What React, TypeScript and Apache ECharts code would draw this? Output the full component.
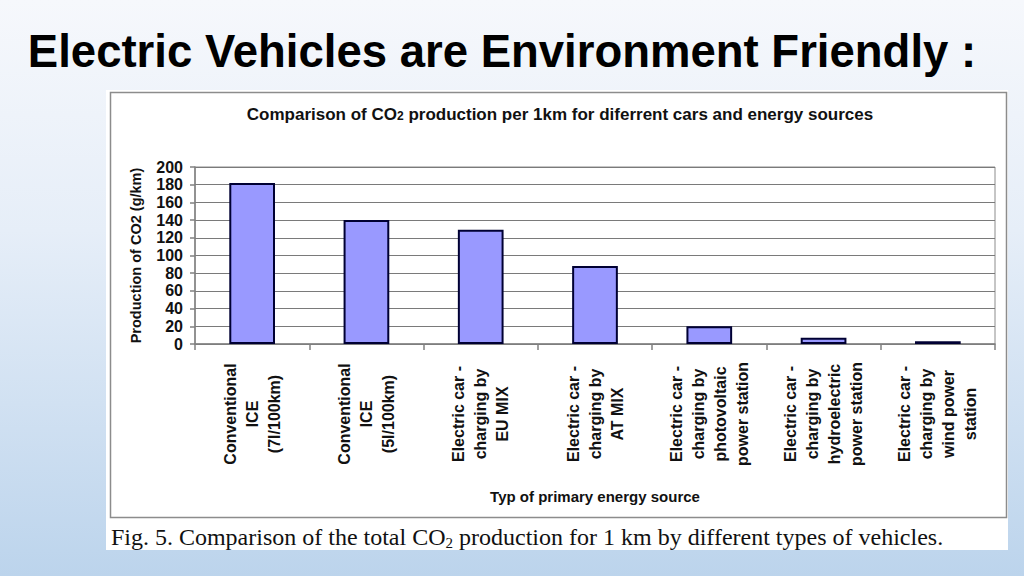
import React, { useEffect, useRef } from "react";
import * as echarts from "echarts";

const categories: string[] = [
  "Conventional\nICE\n(7l/100km)",
  "Conventional\nICE\n(5l/100km)",
  "Electric car -\ncharging by\nEU MIX",
  "Electric car -\ncharging by\nAT MIX",
  "Electric car -\ncharging by\nphotovoltaic\npower station",
  "Electric car -\ncharging by\nhydroelectric\npower station",
  "Electric car -\ncharging by\nwind power\nstation",
];
const co2Values: number[] = [182, 140, 129, 88, 20, 7, 3];
const yTicks = { min: 0, max: 200, interval: 20 };

const slideTitle = "Electric Vehicles are Environment Friendly :";
const chartTitle = "Comparison of CO{s|2} production per 1km for diferrent cars and energy sources";
const yName = "Production of CO2 (g/km)";
const xName = "Typ of primary energy source";
const caption = "Fig. 5. Comparison of the total CO{s|2} production for 1 km by different types of vehicles.";

const SANS = "'Liberation Sans', Arial, Helvetica, sans-serif";
const SERIF = "'Liberation Serif', 'Times New Roman', serif";

export default function App() {
  const ref = useRef<HTMLDivElement>(null);
  useEffect(() => {
    if (!ref.current) return;
    const chart = echarts.init(ref.current, undefined, { renderer: "svg" });
    chart.setOption({
      animation: false,
      backgroundColor: "transparent",
      graphic: [
        {
          type: "rect",
          z: -100,
          shape: { x: 106, y: 90, width: 902, height: 460 },
          style: { fill: "#ffffff" },
          silent: true,
        },
        {
          type: "rect",
          z: -99,
          shape: { x: 110.5, y: 92.5, width: 896, height: 425 },
          style: { fill: "none", stroke: "#8c8c8c", lineWidth: 1.5 },
          silent: true,
        },
        {
          type: "text",
          x: 502,
          y: 51,
          style: {
            text: slideTitle,
            font: `bold 45.5px ${SANS}`,
            fill: "#000000",
            align: "center",
            verticalAlign: "middle",
          },
        },
        {
          type: "text",
          x: 560,
          y: 114,
          style: {
            text: chartTitle,
            font: `bold 17px ${SANS}`,
            fill: "#111111",
            align: "center",
            verticalAlign: "middle",
            rich: {
              s: { font: `bold 12px ${SANS}`, fill: "#111111", padding: [4, 0, 0, 0] },
            },
          },
        },
        {
          type: "text",
          x: 527,
          y: 537,
          style: {
            text: caption,
            font: `24px ${SERIF}`,
            fill: "#111111",
            align: "center",
            verticalAlign: "middle",
            rich: {
              s: { font: `15px ${SERIF}`, fill: "#111111", padding: [11, 0, 0, 0] },
            },
          },
        },
      ],
      grid: {
        left: 195,
        right: 29,
        top: 167,
        bottom: 232,
        show: true,
        borderColor: "#8c8c8c",
        borderWidth: 1,
        backgroundColor: "transparent",
      },
      xAxis: {
        type: "category",
        data: categories,
        name: xName,
        nameLocation: "middle",
        nameGap: 145,
        nameTextStyle: { fontFamily: SANS, fontWeight: "bold", fontSize: 15, color: "#111" },
        axisLine: { show: true, lineStyle: { color: "#808080", width: 1.5 } },
        axisTick: { show: true, length: 6, lineStyle: { color: "#808080", width: 1.5 } },
        axisLabel: {
          interval: 0,
          rotate: 90,
          margin: 70,
          align: "center",
          verticalAlign: "middle",
          fontFamily: SANS,
          fontWeight: "bold",
          fontSize: 16,
          lineHeight: 22,
          color: "#111",
        },
      },
      yAxis: {
        type: "value",
        min: yTicks.min,
        max: yTicks.max,
        interval: yTicks.interval,
        name: yName,
        nameLocation: "middle",
        nameGap: 52,
        nameRotate: 90,
        nameTextStyle: { fontFamily: SANS, fontWeight: "bold", fontSize: 14.5, color: "#111" },
        axisLine: { show: true, lineStyle: { color: "#808080", width: 1.5 } },
        axisTick: { show: true, length: 5, lineStyle: { color: "#808080", width: 1.5 } },
        axisLabel: {
          margin: 12,
          fontFamily: SANS,
          fontWeight: "bold",
          fontSize: 16,
          color: "#111",
        },
        splitLine: { show: true, lineStyle: { color: "#7a7a7a", width: 1.2 } },
      },
      series: [
        {
          type: "bar",
          data: co2Values,
          barWidth: "40%",
          itemStyle: { color: "#9999ff", borderColor: "#000033", borderWidth: 2 },
        },
      ],
    });
    return () => chart.dispose();
  }, []);
  return (
    <div
      style={{
        position: "fixed",
        left: 0,
        top: 0,
        width: 1024,
        height: 576,
        background: "linear-gradient(180deg, #f6f8fc 0%, #e6eef8 40%, #bcd4ec 100%)",
      }}
    >
      <div ref={ref} style={{ width: 1024, height: 576 }} />
    </div>
  );
}
